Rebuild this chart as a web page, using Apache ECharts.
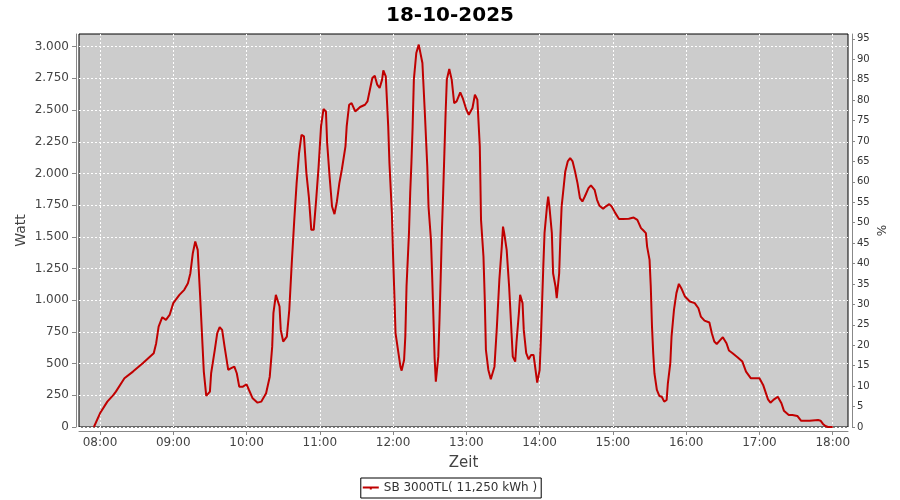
<!DOCTYPE html>
<html>
<head>
<meta charset="utf-8">
<script src="https://cdn.jsdelivr.net/npm/echarts@6/dist/echarts.min.js"></script>
<style>html,body{margin:0;padding:0;background:#fff}#c{width:900px;height:500px}</style>
</head>
<body>
<div id="c"></div>
<script>
const chartTitle = "18-10-2025";
const seriesName = "SB 3000TL( 11,250 kWh )";
const hourTicks = ["08:00","09:00","10:00","11:00","12:00","13:00","14:00","15:00","16:00","17:00","18:00"];
const wattTicks = [0,250,500,750,1000,1250,1500,1750,2000,2250,2500,2750,3000];
const percentTicks = [0,5,10,15,20,25,30,35,40,45,50,55,60,65,70,75,80,85,90,95];
const times = [
"07:55","08:00","08:06","08:11","08:13","08:20","08:27","08:35","08:44","08:46","08:48","08:51","08:54","08:57",
"09:00","09:05","09:09","09:12","09:14","09:16","09:18","09:20","09:22","09:24","09:25","09:27","09:30","09:31",
"09:34","09:36","09:38","09:40","09:42","09:45","09:47","09:50","09:52","09:54","09:57",
"10:00","10:02","10:05","10:09","10:12","10:16","10:19","10:21","10:22","10:24","10:27","10:28","10:30","10:33",
"10:35","10:37","10:39","10:41","10:43","10:45","10:47","10:49","10:51","10:53","10:55","10:57","10:59",
"11:01","11:03","11:05","11:06","11:08","11:10","11:12","11:14","11:16","11:18","11:21","11:22","11:24","11:26",
"11:29","11:33","11:37","11:39","11:41","11:43","11:45","11:47","11:49","11:51","11:52","11:54","11:56","11:57","11:59",
"12:00","12:01","12:02","12:04","12:06","12:07","12:09","12:10","12:11","12:13","12:14","12:15","12:16","12:17",
"12:19","12:21","12:22","12:24","12:26","12:28","12:29","12:31","12:32","12:33","12:34","12:35","12:37","12:38",
"12:39","12:40","12:41","12:42","12:43","12:44","12:46","12:48","12:50","12:52","12:55","12:57",
"13:00","13:02","13:05","13:07","13:09","13:11","13:12","13:14","13:15","13:16","13:18","13:20","13:23","13:25",
"13:27","13:29","13:30","13:31","13:33","13:35","13:37","13:38","13:40","13:41","13:43","13:44","13:46","13:47",
"13:49","13:51","13:53","13:55","13:57","13:58",
"14:00","14:01","14:02","14:03","14:04","14:06","14:07","14:08","14:10","14:11","14:13","14:14","14:16","14:17",
"14:18","14:20","14:21","14:23","14:25","14:27","14:29","14:31","14:33","14:35","14:37","14:40","14:42","14:45",
"14:47","14:49","14:52","14:54","14:57","14:59",
"15:02","15:05","15:08","15:13","15:17","15:20","15:23","15:25","15:27","15:28","15:30","15:31","15:32","15:33",
"15:34","15:36","15:38","15:40","15:42","15:44","15:45","15:47","15:48","15:50","15:52","15:54","15:56","15:59",
"16:03","16:07","16:10","16:12","16:15","16:19","16:21","16:23","16:25","16:28","16:30","16:33","16:35","16:38",
"16:42","16:46","16:49","16:53","16:57",
"17:00","17:03","17:07","17:09","17:12","17:15","17:18","17:20","17:24","17:27","17:31","17:34","17:41","17:48",
"17:50","17:52","17:54","17:56","18:00"
];
const watts = [
0,108,200,253,279,384,437,503,582,661,792,866,845,884,
977,1042,1082,1134,1213,1371,1463,1397,1029,634,437,245,279,424,
608,740,787,766,634,450,463,476,424,318,318,
337,292,226,192,200,266,397,634,898,1042,950,766,674,713,
924,1290,1620,1924,2161,2305,2292,2003,1818,1555,1555,1792,2055,
2371,2508,2489,2240,1976,1739,1679,1779,1924,2029,2213,2371,2542,2555,
2489,2524,2542,2568,2660,2753,2771,2700,2674,2740,2813,2766,2371,2082,1687,
1345,1056,740,608,476,445,529,713,1108,1529,1845,2082,2371,2740,
2950,3016,3016,2871,2477,2055,1739,1476,1187,871,542,358,555,845,
1187,1555,1845,2161,2477,2740,2824,2740,2555,2568,2640,2595,
2503,2463,2516,2621,2582,2213,1634,1345,1029,608,450,377,476,792,
1160,1423,1581,1529,1397,1108,740,555,516,661,898,1042,977,766,
582,534,568,568,424,350,
450,687,977,1266,1529,1739,1818,1739,1529,1213,1108,1016,1213,1502,
1739,1924,2016,2095,2121,2095,2016,1924,1805,1779,1818,1884,1906,1871,
1792,1745,1721,1739,1758,1739,
1687,1640,1640,1642,1652,1634,1569,1550,1529,1423,1318,1108,792,582,
424,292,245,239,200,213,345,503,713,924,1056,1129,1095,1029,
990,977,937,871,839,824,740,674,655,687,708,661,603,582,
550,516,437,384,384,
384,332,218,192,218,239,187,129,95,95,87,50,50,55,
50,24,8,0,0
];

function toMin(s){ const p = s.split(":"); return (+p[0])*60 + (+p[1]); }
function fmtMin(v){ const h = Math.floor(v/60), m = Math.round(v - h*60); return String(h).padStart(2,"0")+":"+String(m).padStart(2,"0"); }
function fmtW(v){ return String(Math.round(v)).replace(/\B(?=(\d{3})+(?!\d))/g, "."); }

const tickMinutes = hourTicks.map(toMin);
const lineData = times.map((t,i)=>[toMin(t), watts[i]]);

const FONT = "DejaVu Sans";
const RED = "#c00000";
const chart = echarts.init(document.getElementById("c"), null, {renderer:"canvas"});
chart.setOption({
  animation:false,
  backgroundColor:"#ffffff",
  title:{text:chartTitle,left:"center",top:1,textStyle:{fontFamily:FONT,fontSize:20,fontWeight:"bold",color:"#000"}},
  grid:{left:79,right:52,top:34,bottom:73,show:true,backgroundColor:"#cccccc",borderColor:"#000",borderWidth:1,containLabel:false},
  legend:{
    bottom:2,left:"center",
    data:[{name:seriesName,icon:"path://M0,9 L16,9 L16,11 L0,11 Z M7,11 L9,11 L9,12 L7,12 Z"}],
    itemWidth:16,itemHeight:10,itemGap:5,
    backgroundColor:"#fff",borderColor:"#000",borderWidth:1,borderRadius:0,padding:[3,4,3,2],
    textStyle:{fontFamily:FONT,fontSize:12,color:"#333",lineHeight:14}
  },
  xAxis:{
    type:"value",min:462.8,max:1092.5,offset:4,
    name:"Zeit",nameLocation:"middle",nameGap:25,nameMoveOverlap:false,
    nameTextStyle:{fontFamily:FONT,fontSize:15,color:"#444"},
    axisLine:{show:true,onZero:false,lineStyle:{color:"#888",width:1}},
    axisTick:{show:true,length:4,customValues:tickMinutes,lineStyle:{color:"#888"}},
    axisLabel:{customValues:tickMinutes,formatter:fmtMin,fontFamily:FONT,fontSize:12,color:"#444",margin:6},
    splitLine:{show:true,lineStyle:{color:"#ffffff",type:[2,2],width:1}}
  },
  yAxis:[
    {
      type:"value",position:"left",min:0,max:3100,offset:3,
      name:"Watt",nameLocation:"middle",nameGap:48,nameRotate:90,nameMoveOverlap:false,
      nameTextStyle:{fontFamily:FONT,fontSize:14,color:"#444"},
      axisLine:{show:true,lineStyle:{color:"#888",width:1}},
      axisTick:{show:true,length:4,customValues:wattTicks,lineStyle:{color:"#888"}},
      axisLabel:{customValues:wattTicks,formatter:fmtW,fontFamily:FONT,fontSize:12,color:"#444",margin:7},
      splitLine:{show:true,lineStyle:{color:"#ffffff",type:[2,2],width:1}}
    },
    {
      type:"value",position:"right",min:0,max:96.2,offset:4,
      name:"%",nameLocation:"middle",nameGap:25,nameRotate:90,nameMoveOverlap:false,
      nameTextStyle:{fontFamily:FONT,fontSize:12,color:"#333"},
      axisLine:{show:true,lineStyle:{color:"#888",width:1}},
      axisTick:{show:true,length:3,customValues:percentTicks,lineStyle:{color:"#888"}},
      axisLabel:{customValues:percentTicks,fontFamily:FONT,fontSize:10,color:"#333",margin:5},
      splitLine:{show:false}
    }
  ],
  series:[{
    name:seriesName,type:"line",yAxisIndex:0,data:lineData,
    showSymbol:false,symbol:"none",
    lineStyle:{color:RED,width:2},itemStyle:{color:RED}
  }]
});
</script>
</body>
</html>
